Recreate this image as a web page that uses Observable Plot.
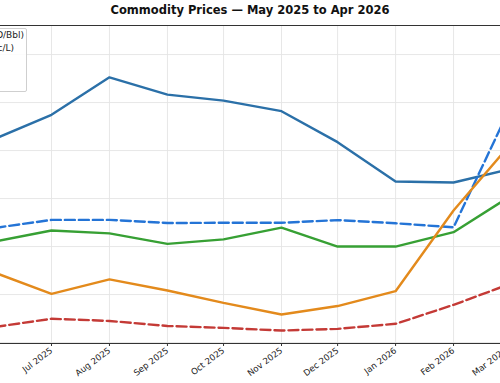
<!DOCTYPE html>
<html><head><meta charset="utf-8">
<script src="https://cdn.jsdelivr.net/npm/d3@7"></script>
<script src="https://cdn.jsdelivr.net/npm/@observablehq/plot@0.6"></script>
<style>
body{margin:0;background:#fff;font-family:"DejaVu Sans",sans-serif;overflow:hidden;}
#wrap{position:relative;width:500px;height:383px;overflow:hidden;}
#title{height:24px;text-align:center;font-weight:bold;font-size:11.5px;line-height:21px;color:#111;white-space:nowrap;}
#legend{position:absolute;left:-140px;top:28px;width:165px;height:62px;border:1px solid #cfcfcf;background:rgba(255,255,255,0.85);border-radius:2px;}
.lg{position:absolute;white-space:nowrap;font-size:9px;color:#222;line-height:11px;}
.sw{position:absolute;left:6px;}
</style></head><body>
<div id="wrap"><div id="title">Commodity Prices — May 2025 to Apr 2026</div><div id="chart"></div><div id="legend"></div></div>
<script>
// Monthly observations visible in the reference (first of each month)
const months = ["2025-06-01","2025-07-01","2025-08-01","2025-09-01","2025-10-01","2025-11-01","2025-12-01","2026-01-01","2026-02-01","2026-03-01"];
const seriesNames = ["Brent Crude (USD/Bbl)","Unleaded Petrol (c/L)","Diesel (c/L)","LPG (c/L)","Iron Ore (USD/t)"];
const brent   = [125.0, 134.9, 150.5, 143.3, 140.8, 136.4, 123.5, 107.1, 106.7, 111.8];
const petrol  = [87.8, 91.1, 91.1, 89.8, 89.9, 89.9, 91.0, 89.7, 88.0, 134.2];
const diesel  = [82.1, 86.7, 85.5, 81.1, 83.0, 87.9, 80.0, 80.0, 86.0, 99.8];
const lpg     = [69.0, 60.3, 66.3, 61.7, 56.5, 51.7, 55.2, 61.4, 95.0, 120.4];
const ironOre = [46.5, 49.9, 49.0, 46.9, 46.1, 45.0, 45.7, 47.8, 55.7, 63.8];
const tickMonths = ["2025-06-01","2025-07-01","2025-08-01","2025-09-01","2025-10-01","2025-11-01","2025-12-01","2026-01-01","2026-02-01","2026-03-01"];
const yTicks = [40, 60, 80, 100, 120, 140, 160];

const colors = ["#2b70a8","#2474d6","#37a034","#e38a1c","#c43a36"];
const dashes = [null, "10,4", null, null, "10,4"];
const values = [brent, petrol, diesel, lpg, ironOre];

const rows = [];
values.forEach((arr, s) => arr.forEach((v, i) => rows.push({series: seriesNames[s], date: new Date(months[i]), value: v})));
const ticks = tickMonths.map(d => new Date(d));
const yTop = 172.1, yBot = 39.6;

const chart = Plot.plot({
  width: 500, height: 359,
  marginTop: 1, marginBottom: 40, marginLeft: 0, marginRight: 0,
  style: {fontFamily: "DejaVu Sans", fontSize: "8.6px", background: "white", overflow: "visible", color: "#222"},
  x: {type: "utc", domain: [new Date("2025-06-01"), new Date("2026-03-01")], range: [-5.1, 505.4]},
  y: {domain: [yBot, yTop], axis: null},
  marks: [
    Plot.gridY(yTicks, {stroke: "#e4e4e4", strokeOpacity: 1, strokeWidth: 0.9}),
    Plot.gridX(ticks, {stroke: "#e4e4e4", strokeOpacity: 1, strokeWidth: 0.9}),
    ...seriesNames.map((name, s) => Plot.line(rows.filter(r => r.series === name), {
      x: "date", y: "value", stroke: colors[s], strokeWidth: 2.4,
      strokeDasharray: dashes[s] ?? undefined, clip: true, strokeLinejoin: "round"
    })),
    Plot.ruleY([yTop], {stroke: "#333", strokeWidth: 1.2}),
    Plot.ruleY([yBot], {stroke: "#333", strokeWidth: 1.2}),
    Plot.axisX(ticks, {tickFormat: d3.utcFormat("%b %Y"), tickRotate: -37, tickSize: 3, tickPadding: 3, stroke: "#333", label: null, fontSize: 8.6, fill: "#222"})
  ]
});
document.getElementById("chart").appendChild(chart);

// legend (matplotlib-style box in the upper left of the axes)
const lg = document.getElementById("legend");
const rights = [2, 12, 40, 48, 36];
seriesNames.forEach((name, s) => {
  const c = 35 + s * 13.2;
  const row = document.createElement("div");
  row.className = "lg";
  row.style.right = rights[s] + "px";
  row.style.top = (c - 29 - 5.5) + "px";
  row.textContent = name;
  lg.appendChild(row);
  const sw = document.createElementNS("http://www.w3.org/2000/svg", "svg");
  sw.setAttribute("class", "sw"); sw.setAttribute("width", 22); sw.setAttribute("height", 6);
  sw.style.top = (c - 29 - 3) + "px";
  const ln = document.createElementNS("http://www.w3.org/2000/svg", "line");
  ln.setAttribute("x1", 0); ln.setAttribute("x2", 22); ln.setAttribute("y1", 3); ln.setAttribute("y2", 3);
  ln.setAttribute("stroke", colors[s]); ln.setAttribute("stroke-width", 2.4);
  if (dashes[s]) ln.setAttribute("stroke-dasharray", dashes[s]);
  sw.appendChild(ln); lg.appendChild(sw);
});
</script>
</body></html>
